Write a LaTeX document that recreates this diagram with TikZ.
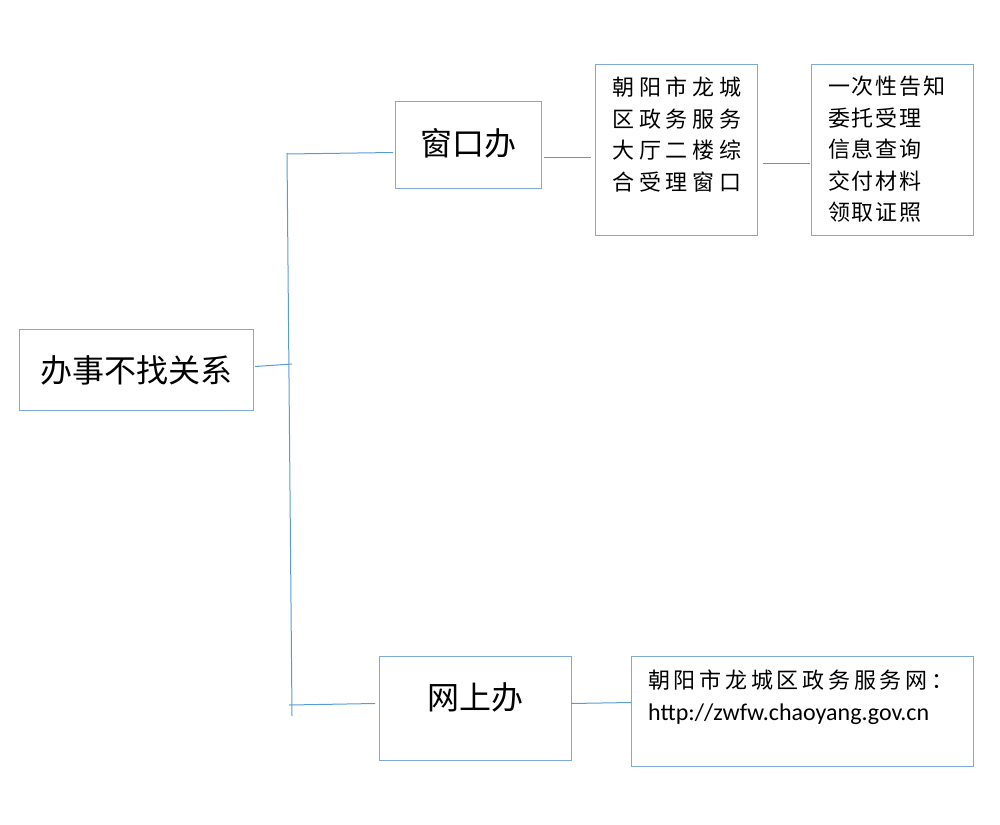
\documentclass[tikz,border=0pt]{standalone}
\usepackage{fontspec}
\setmainfont{Noto Sans CJK SC}
\newfontfamily\cjkC[LetterSpace=22]{Noto Sans CJK SC}
\newfontfamily\cjkD[LetterSpace=8]{Noto Sans CJK SC}
\newfontfamily\cjkF[LetterSpace=17]{Noto Sans CJK SC}
\newfontfamily\urlf{Carlito}
\definecolor{linec}{HTML}{5B9BD5}
\definecolor{boxc}{HTML}{7EA9D9}
\begin{document}
\begin{tikzpicture}[x=1pt,y=-1pt,
  box/.style={draw=boxc,line width=1pt,inner sep=0pt,anchor=north west},
  big/.style={font=\fontsize{32}{38}\selectfont,inner sep=0pt},
  list/.style={inner sep=0pt,anchor=north west,align=left},
  conn/.style={draw=linec,line width=1pt}]
\useasboundingbox (0,0) rectangle (1000,824);
% boxes
\node[box,minimum width=234pt,minimum height=81pt] (A) at (19,329) {};
\node[box,minimum width=146pt,minimum height=87pt] (B) at (395,101) {};
\node[box,minimum width=162pt,minimum height=171pt] (C) at (595,64) {};
\node[box,minimum width=162pt,minimum height=171pt] (D) at (811,64) {};
\node[box,minimum width=192pt,minimum height=104pt] (E) at (379,656) {};
\node[box,minimum width=342pt,minimum height=110pt] (F) at (631,656) {};
% texts
\node[big] (Atext) at (A.center) {办事不找关系};
\node[big] (Btext) at ([yshift=2pt]B.center) {窗口办};
\node[big] (Etext) at ([yshift=11pt]E.center) {网上办};
\node[list,font=\cjkC\fontsize{22}{31.5}\selectfont] (Ctext) at (612,77)
  {朝阳市龙城\\区政务服务\\大厅二楼综\\合受理窗口};
\node[list,font=\cjkD\fontsize{22}{31.5}\selectfont] (Dtext) at (828,76)
  {一次性告知\\委托受理\\信息查询\\交付材料\\领取证照};
\node[list,font=\fontsize{22}{32}\selectfont] (Ftext) at (648,670)
  {{\cjkF 朝阳市龙城区政务服务网：}\\{\urlf\fontsize{24}{32}\selectfont http://zwfw.chaoyang.gov.cn}};
% connectors
\coordinate (t1) at (287,153);
\coordinate (t2) at (292,716);
\coordinate (tA) at (292,364);
\coordinate (tE) at (289,705);
\coordinate (tB) at (287,154);
\draw[conn] (t1) -- (t2);
\draw[conn] (tB) -- ([xshift=-2pt,yshift=-7.5pt]B.west);
\draw[conn] ([xshift=1pt,yshift=3.5pt]A.east) -- (tA);
\draw[conn] (tE) -- ([xshift=-4pt,yshift=5pt]E.west);
\draw[conn] ([xshift=2pt,yshift=-12.5pt]B.east) -- ([xshift=-4pt,yshift=-7.5pt]C.west);
\draw[conn] ([xshift=5pt,yshift=-13.5pt]C.east) -- ([xshift=-1pt,yshift=-13.5pt]D.west);
\draw[conn] ([xshift=-1pt,yshift=5pt]E.east) -- ([yshift=9pt]F.west);
\end{tikzpicture}
\end{document}
